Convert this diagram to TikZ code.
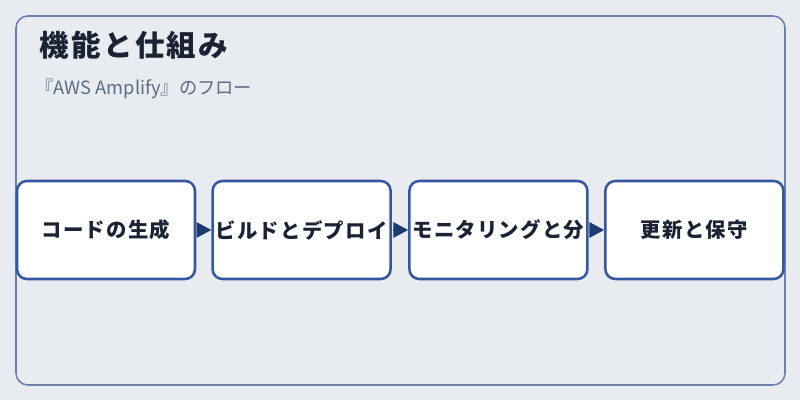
\documentclass[tikz,border=0pt]{standalone}
\usepackage{fontspec}
\setmainfont{Noto Sans CJK JP}
\usetikzlibrary{arrows.meta}
\definecolor{pagebg}{HTML}{E8ECF1}
\definecolor{framecol}{HTML}{6B80AA}
\definecolor{boxline}{HTML}{3557A0}
\definecolor{arrowcol}{HTML}{1E3A73}
\definecolor{inkdark}{HTML}{1A2233}
\definecolor{subgray}{HTML}{5C6B85}

\begin{document}
\begin{tikzpicture}[
    stage/.style={draw=boxline, fill=white, rounded corners=7pt, minimum width=4.45cm, minimum height=2.45cm, align=center, line width=1.8pt, font=\fontsize{14.5}{17}\selectfont\bfseries\addfontfeature{LetterSpace=6}, text=inkdark, inner sep=0pt},
    flow/.style={-{Triangle[length=10.5pt,width=11pt]}, draw=arrowcol, fill=arrowcol, line width=0.8pt, shorten <=1pt}
]
    \fill[pagebg] (0,0) rectangle (20,10);
    \useasboundingbox (0,0) rectangle (20,10);
    \draw[framecol, line width=1.1pt, rounded corners=8.5pt] (0.4,0.375) rectangle (19.625,9.6);

    \node[anchor=west, font=\fontsize{21}{25}\selectfont\bfseries\addfontfeature{LetterSpace=8}, text=inkdark, inner sep=0pt] (title) at (0.98,8.875) {機能と仕組み};
    \node[anchor=west, font=\fontsize{13}{15}\selectfont, text=subgray, inner sep=0pt] (subtitle) at (0.88,7.78) {『AWS Amplify』のフロー};

    \node[stage] (code) at (2.65,4.25) {コードの生成};
    \node[stage] (build) at (7.54,4.25) {ビルドとデプロイ};
    \node[stage] (monitor) at (12.46,4.25) {モニタリングと分};
    \node[stage] (update) at (17.36,4.25) {更新と保守};

    \draw[flow] (code) -- (build);
    \draw[flow] (build) -- (monitor);
    \draw[flow] (monitor) -- (update);
\end{tikzpicture}
\end{document}
